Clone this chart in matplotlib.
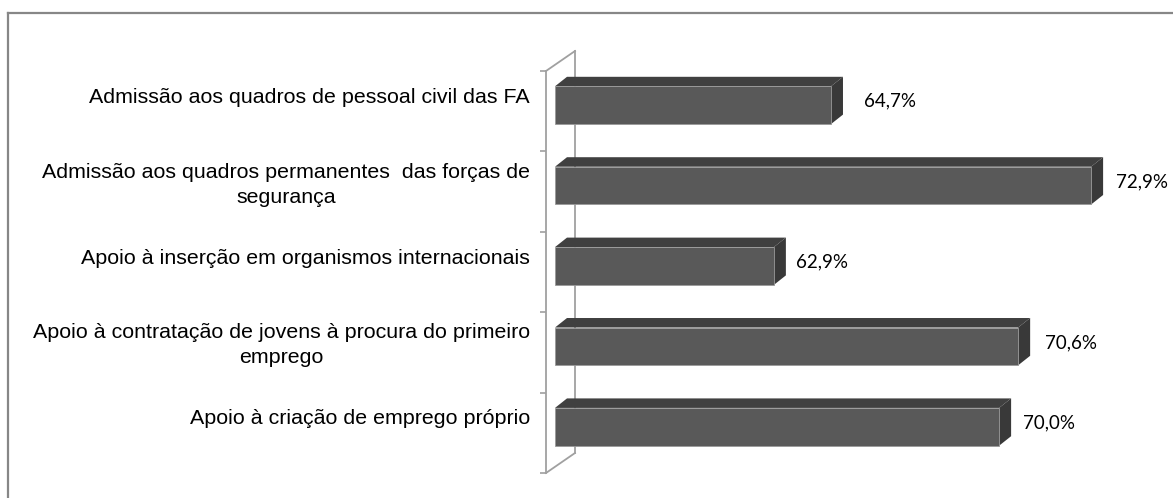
import matplotlib
matplotlib.use("Agg")
import matplotlib.pyplot as plt
from matplotlib.patches import Polygon
from matplotlib.lines import Line2D
import numpy as np

categories = [
    "Admissão aos quadros de pessoal civil das FA",
    "Admissão aos quadros permanentes  das forças de\nsegurança",
    "Apoio à inserção em organismos internacionais",
    "Apoio à contratação de jovens à procura do primeiro\nemprego",
    "Apoio à criação de emprego próprio",
]
values = [64.7, 72.9, 62.9, 70.6, 70.0]
value_labels = ["64,7%", "72,9%", "62,9%", "70,6%", "70,0%"]
x_min, x_max = 56, 74

W, H, DPI = 1173, 498, 100
fig = plt.figure(figsize=(W / DPI, H / DPI), dpi=DPI)
fig.patch.set_facecolor("white")

ax = fig.add_axes([546 / W, 25 / H, 571 / W, 402 / H])
ax.set_xlim(x_min, x_max)
ax.set_ylim(len(categories) - 0.5, -0.5)
ax.patch.set_alpha(0)
for s in ["top", "right", "bottom"]:
    ax.spines[s].set_visible(False)
ax.spines["left"].set_color("#a0a0a0")
ax.spines["left"].set_linewidth(1.3)
ax.set_xticks([])
ax.set_yticks(np.arange(-0.5, len(categories), 1.0))
ax.set_yticklabels([])
ax.tick_params(axis="y", length=4, color="#a0a0a0", width=1.2)

# 3D geometry (pixels): wall depth vector, bar front offset, bar depth
wall_d = np.array([29.0, 20.0])
bar_front = np.array([9.0, 6.0])
bar_d = np.array([12.0, 9.5])
bar_h = 0.47

front_col = "#595959"
top_col = "#404040"
side_col = "#393939"
wall_col = "#a0a0a0"

T = ax.transData
ys = np.arange(len(categories))

# wall (back line and diagonals)
p_top = T.transform((x_min, -0.5))
p_bot = T.transform((x_min, len(categories) - 0.5))
wall_pts = [
    [p_top, p_top + wall_d],
    [p_bot, p_bot + wall_d],
    [p_top + wall_d, p_bot + wall_d],
]
for seg in wall_pts:
    seg = np.array(seg)
    fig.add_artist(Line2D(seg[:, 0], seg[:, 1], transform=None,
                          color=wall_col, lw=1.3, zorder=1))

for y, v in zip(ys, values):
    tl = T.transform((x_min, y - bar_h / 2)) + bar_front
    tr = T.transform((v, y - bar_h / 2)) + bar_front
    br = T.transform((v, y + bar_h / 2)) + bar_front
    bl = T.transform((x_min, y + bar_h / 2)) + bar_front
    top = Polygon([tl, tr, tr + bar_d, tl + bar_d], closed=True,
                  transform=None, facecolor=top_col, edgecolor="none", zorder=3)
    side = Polygon([tr, br, br + bar_d, tr + bar_d], closed=True,
                   transform=None, facecolor=side_col, edgecolor="none", zorder=3)
    front = Polygon([tl, tr, br, bl], closed=True, transform=None,
                    facecolor=front_col, edgecolor="#9a9a9a", lw=0.6, zorder=4)
    for p in (top, side, front):
        fig.add_artist(p)

label_dx = [42, 34, 31, 36, 33]
for y, v, lab, dx in zip(ys, values, value_labels, label_dx):
    ax.annotate(lab, xy=(v, y), xycoords="data", xytext=(dx, 10),
                textcoords="offset pixels", ha="left", va="center",
                fontsize=13.5, family="Lato", color="#000000",
                annotation_clip=False)

for y, cat in zip(ys, categories):
    n_lines = cat.count("\n") + 1
    dy = 14 - 7 * (n_lines - 1)
    ax.annotate(cat, xy=(x_min, y), xycoords="data", xytext=(-16, dy),
                textcoords="offset pixels", ha="right", va="center",
                multialignment="center", fontsize=15.4,
                family="Liberation Sans", color="#000000",
                annotation_clip=False, linespacing=1.4)

# outer frame (left and top edges visible)
fx = 7.5 / W
fy = (H - 13) / H
fig.add_artist(Line2D([fx, fx], [0, fy], transform=fig.transFigure,
                      color="#878787", lw=1.6))
fig.add_artist(Line2D([fx, 1], [fy, fy], transform=fig.transFigure,
                      color="#878787", lw=1.6))

fig.savefig("out.png", dpi=DPI, facecolor="white")
